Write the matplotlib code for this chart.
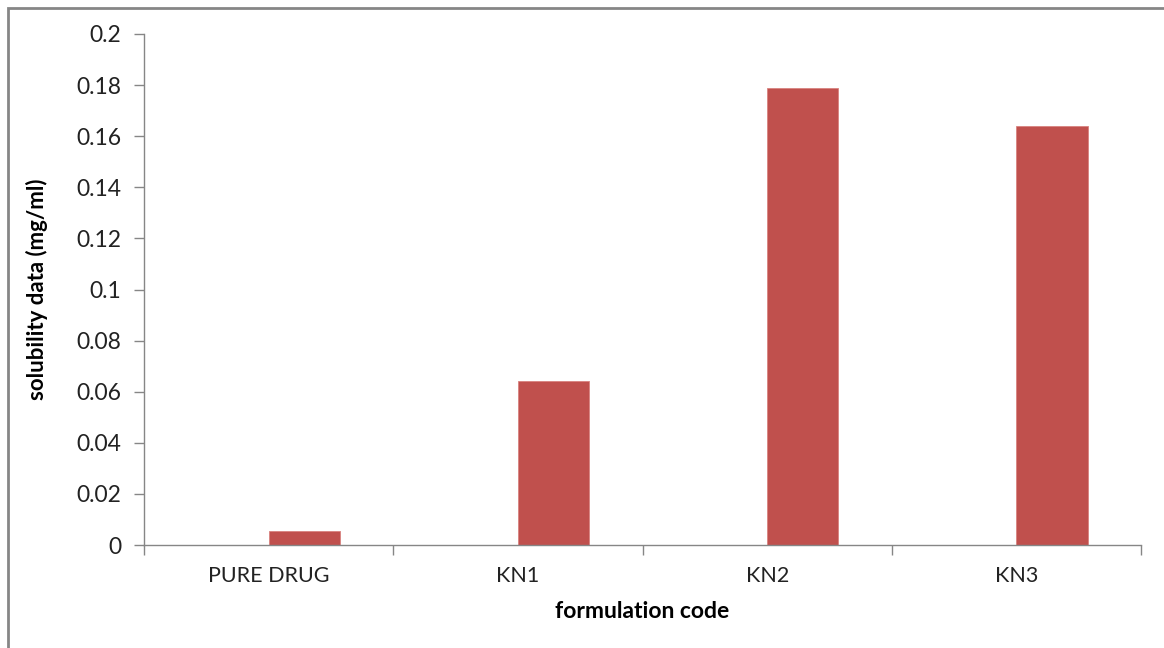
import matplotlib.pyplot as plt
import numpy as np
from matplotlib.patches import Rectangle
from matplotlib.ticker import FixedLocator, NullFormatter

# solubility per formulation
formulations = ["PURE DRUG", "KN1", "KN2", "KN3"]
solubility = [0.0055, 0.064, 0.179, 0.164]
y_ticks = [0, 0.02, 0.04, 0.06, 0.08, 0.1, 0.12, 0.14, 0.16, 0.18, 0.2]
y_tick_labels = ["0", "0.02", "0.04", "0.06", "0.08", "0.1", "0.12",
                 "0.14", "0.16", "0.18", "0.2"]

plt.rcParams["font.family"] = ["Lato", "DejaVu Sans"]
axis_grey = "#868686"
bar_red = "#C0504D"

fig = plt.figure(figsize=(11.64, 6.48), dpi=100)
ax = fig.add_axes([144 / 1164, 1 - 545 / 648, 997 / 1164, 511 / 648])

# outer chart frame (only left and top edges fall inside the image)
fig.patches.append(Rectangle((8 / 1164, -0.1), 1.2, 1 - 8 / 648 + 0.1,
                             transform=fig.transFigure, fill=False,
                             edgecolor=axis_grey, linewidth=2))

x = np.arange(len(formulations))
width = 1 / 3.5
ax.bar(x + width / 2, solubility, width=width, color=bar_red,
       edgecolor="#D9827F", linewidth=0.6, zorder=2)

ax.set_xlim(-0.5, len(formulations) - 0.5)
ax.set_ylim(0, 0.2)

ax.set_yticks(y_ticks)
ax.set_yticklabels(y_tick_labels)
ax.xaxis.set_major_locator(FixedLocator(np.arange(len(formulations) + 1) - 0.5))
ax.xaxis.set_major_formatter(NullFormatter())
ax.xaxis.set_minor_locator(FixedLocator(x))
ax.set_xticklabels(formulations, minor=True)

ax.tick_params(axis="y", direction="out", length=7, width=1, color=axis_grey,
               labelsize=16.5, pad=9.5, labelcolor="#222222")
ax.tick_params(axis="x", which="major", direction="out", length=7, width=1,
               color=axis_grey)
ax.tick_params(axis="x", which="minor", length=0, labelsize=15.5, pad=15,
               labelcolor="#222222")

for side in ["top", "right"]:
    ax.spines[side].set_visible(False)
for side in ["left", "bottom"]:
    ax.spines[side].set_color(axis_grey)
    ax.spines[side].set_linewidth(1)

ax.set_ylabel("solubility data (mg/ml)", fontsize=16, fontweight="bold",
              labelpad=20)
ax.set_xlabel("formulation code", fontsize=16.5, fontweight="bold", labelpad=11)

fig.savefig("out.png", dpi=100)
